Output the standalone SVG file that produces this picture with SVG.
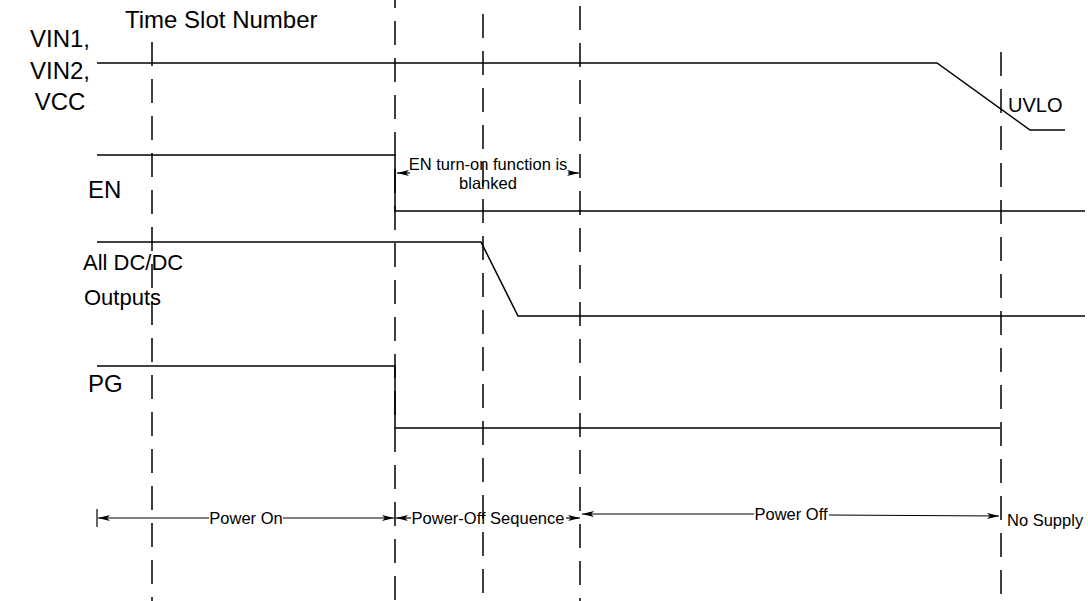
<svg xmlns="http://www.w3.org/2000/svg" width="1088" height="601" viewBox="0 0 1088 601">
<style>
text{font-family:"Liberation Sans",Arial,sans-serif;fill:#000}
.lbl{font-size:22px}
.sm{font-size:16.5px}
.sig{fill:none;stroke:#000;stroke-width:1.5}
.dash{stroke:#000;stroke-width:1.5;stroke-dasharray:24 13;fill:none}
.dim{stroke:#000;stroke-width:1.2;fill:none}
</style>
<defs>
<marker id="ah" viewBox="0 0 12 6" refX="12" refY="3" markerWidth="12" markerHeight="6" markerUnits="userSpaceOnUse" orient="auto">
<path d="M0,0 L12,3 L0,6 L3,3 Z" fill="#000"/>
</marker>
</defs>
<rect width="1088" height="601" fill="#fff"/>
<g id="labels">
<text class="lbl" x="125" y="28" style="font-size:24px">Time Slot Number</text>
<text class="lbl" x="60" y="47" text-anchor="middle" style="font-size:24px">VIN1,</text>
<text class="lbl" x="60" y="79" text-anchor="middle" style="font-size:24px">VIN2,</text>
<text class="lbl" x="60" y="110" text-anchor="middle" style="font-size:24px">VCC</text>
<text class="lbl" x="88" y="198" style="font-size:24px">EN</text>
<text class="lbl" x="83" y="270" style="font-size:22px">All DC/DC</text>
<text class="lbl" x="84" y="305" style="font-size:22px">Outputs</text>
<text class="lbl" x="88" y="392" style="font-size:24px">PG</text>
<text x="1008" y="112" style="font-size:20px">UVLO</text>
</g>
<g id="gridlines">
<line class="dash" x1="152" y1="42" x2="152" y2="601"/>
<line class="dash" x1="395" y1="-16" x2="395" y2="601"/>
<line class="dash" x1="483" y1="14" x2="483" y2="601"/>
<line class="dash" x1="580" y1="6" x2="580" y2="601"/>
<line class="dash" x1="1001" y1="52" x2="1001" y2="601"/>
</g>
<g id="signals">
<polyline class="sig" points="97,63 937,63 1030,130 1065,130"/>
<polyline class="sig" points="97,155 395,155 395,211 1085,211"/>
<polyline class="sig" points="97,242 481,242 518,316 1085,316"/>
<polyline class="sig" points="97,366 395,366 395,428 1000,428"/>
</g>
<g id="en-blank">
<line class="dim" x1="410" y1="173" x2="397" y2="173" marker-end="url(#ah)"/>
<line class="dim" x1="568" y1="173" x2="579" y2="173" marker-end="url(#ah)"/>
<text class="sm" x="488" y="170" text-anchor="middle">EN turn-on function is</text>
<text class="sm" x="488" y="189" text-anchor="middle">blanked</text>
</g>
<g id="phases">
<line class="dim" x1="97" y1="509" x2="97" y2="527"/>
<line class="dim" x1="209" y1="518" x2="98" y2="518" marker-end="url(#ah)"/>
<line class="dim" x1="283" y1="518" x2="394" y2="518" marker-end="url(#ah)"/>
<text class="sm" x="246" y="524" text-anchor="middle">Power On</text>
<line class="dim" x1="411" y1="518" x2="396" y2="518" marker-end="url(#ah)"/>
<line class="dim" x1="566" y1="518" x2="580" y2="518" marker-end="url(#ah)"/>
<text class="sm" x="488" y="524" text-anchor="middle">Power-Off Sequence</text>
<line class="dim" x1="754" y1="514" x2="582" y2="514" marker-end="url(#ah)"/>
<line class="dim" x1="829" y1="515" x2="999" y2="516" marker-end="url(#ah)"/>
<text class="sm" x="791" y="520" text-anchor="middle">Power Off</text>
<text class="sm" x="1007" y="526">No Supply</text>
</g>
</svg>
